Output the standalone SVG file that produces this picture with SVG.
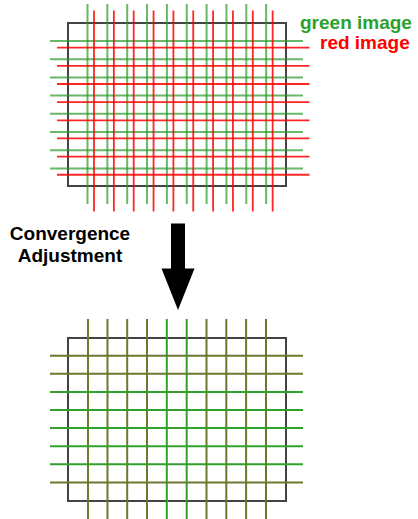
<svg xmlns="http://www.w3.org/2000/svg" width="418" height="519" viewBox="0 0 418 519">
<style>
.frame{fill:none;stroke:#222;stroke-width:2;stroke-opacity:0.85}
.g{stroke:#2a9a2a;stroke-width:2;stroke-opacity:0.7;fill:none}
.r{stroke:#ff0000;stroke-width:1.8;stroke-opacity:0.85;fill:none}
.ol{stroke:#6b7a2c;stroke-width:2;fill:none}
.gr{stroke:#33a02c;stroke-width:2;fill:none}
.lbl{font-family:"Liberation Sans",Arial,sans-serif;font-weight:bold;font-size:19px}
</style>
<rect width="418" height="519" fill="#fff"/>
<g id="before">
  <rect class="frame" x="68" y="23" width="218" height="163"/>
  <g id="green-grid">
    <path class="g" d="M87.5 4V204M107.35 4V204M127.2 4V204M147.05 4V204M166.9 4V204M186.75 4V204M206.6 4V204M226.45 4V204M246.3 4V204M266.15 4V204"/>
    <path class="g" d="M50 41H303M50 59.2H303M50 77.4H303M50 95.6H303M50 113.8H303M50 132H303M50 150.2H303M50 168.4H303"/>
  </g>
  <g id="red-grid">
    <path class="r" d="M94 10.5V211.5M113.85 10.5V211.5M133.7 10.5V211.5M153.55 10.5V211.5M173.4 10.5V211.5M193.25 10.5V211.5M213.1 10.5V211.5M232.95 10.5V211.5M252.8 10.5V211.5M272.65 10.5V211.5"/>
    <path class="r" d="M57 47.7H309.5M57 65.85H309.5M57 84H309.5M57 102.15H309.5M57 120.3H309.5M57 138.45H309.5M57 156.6H309.5M57 174.75H309.5"/>
  </g>
</g>
<g id="legend">
  <text class="lbl" x="300" y="29" fill="#2ca02c">green image</text>
  <text class="lbl" x="320" y="49" fill="#ff0000">red image</text>
</g>
<g id="adjustment">
  <text class="lbl" x="70" y="240" text-anchor="middle" fill="#000">Convergence</text>
  <text class="lbl" x="70" y="262" text-anchor="middle" fill="#000">Adjustment</text>
  <polygon points="171,223.5 185,223.5 185,268.5 194.5,268.5 178,310 161.5,268.5 171,268.5" fill="#000"/>
</g>
<g id="after">
  <rect class="frame" x="68" y="338" width="218" height="163"/>
  <path class="ol" d="M88 319V519M107.5 319V519M127.2 319V519M147 319V519M206.5 319V519M226.3 319V519M246.1 319V519M266 319V519"/>
  <path class="gr" d="M166.8 319V519M186.7 319V519"/>
  <path class="ol" d="M50 355.7H303M50 373.8H303M50 482.4H303"/>
  <path class="gr" d="M50 391.9H303M50 410H303M50 428.1H303M50 446.2H303M50 464.3H303"/>
</g>
</svg>
